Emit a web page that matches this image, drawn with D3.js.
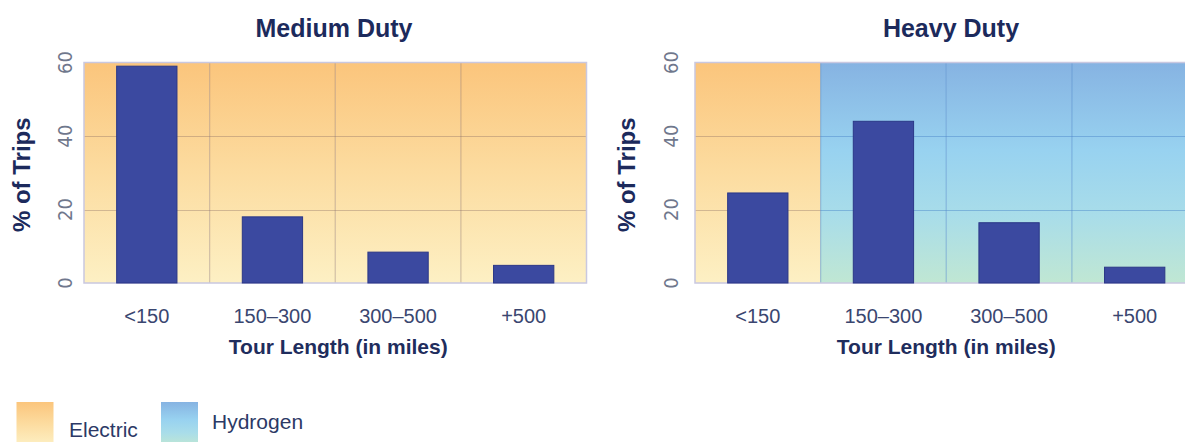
<!DOCTYPE html>
<html>
<head>
<meta charset="utf-8">
<script src="https://cdn.jsdelivr.net/npm/d3@7/dist/d3.min.js"></script>
<style>
  html, body { margin: 0; padding: 0; background: #ffffff; }
  svg { display: block; }
  text { font-family: "Liberation Sans", Arial, sans-serif; }
</style>
</head>
<body>
<svg id="chart" width="1185" height="442"></svg>
<script>
// ---- data ----
const categories = ["<150", "150\u2013300", "300\u2013500", "+500"];
const mediumValues = [59, 18, 8.4, 4.8];
const heavyValues = [24.5, 44, 16.4, 4.3];
const mediumFuel = ["Electric", "Electric", "Electric", "Electric"];
const heavyFuel = ["Electric", "Hydrogen", "Hydrogen", "Hydrogen"];
const yTicks = [0, 20, 40, 60];
const panelTitles = ["Medium Duty", "Heavy Duty"];
const xAxisTitle = "Tour Length (in miles)";
const yAxisTitle = "% of Trips";
const legendLabels = ["Electric", "Hydrogen"];

// ---- layout ----
const svg = d3.select("#chart");
const W = 1185, H = 442;
const plotTop = 62.5, plotBottom = 283;
const panels = [
  { title: panelTitles[0], values: mediumValues, fuel: mediumFuel, left: 84, right: 586.5, titleX: 334, yTitleX: 30, yTickX: 72 },
  { title: panelTitles[1], values: heavyValues, fuel: heavyFuel, left: 695, right: 1197.5, titleX: 951, yTitleX: 635, yTickX: 678 }
];

// gradients
const defs = svg.append("defs");
function grad(id, stops) {
  const g = defs.append("linearGradient").attr("id", id)
    .attr("x1", 0).attr("y1", 0).attr("x2", 0).attr("y2", 1);
  stops.forEach(s => g.append("stop").attr("offset", s[0]).attr("stop-color", s[1]));
}
grad("gElectric", [[0, "#fbc57c"], [0.5, "#fcdca0"], [1, "#fdf0c4"]]);
grad("gHydrogen", [[0, "#86b3e2"], [0.4, "#98d2f0"], [0.7, "#a9dde9"], [1, "#c0e7d3"]]);
const fuelFill = { Electric: "url(#gElectric)", Hydrogen: "url(#gHydrogen)" };
const gridColor = { Electric: "rgba(130,100,95,0.35)", Hydrogen: "rgba(70,130,200,0.45)" };

const y = d3.scaleLinear().domain([0, 60]).range([plotBottom, plotTop]);

panels.forEach(p => {
  const x = d3.scaleBand().domain(categories).range([p.left, p.right])
    .paddingInner(0.52).paddingOuter(0.26);
  const step = x.step();
  const off = (step - x.bandwidth()) / 2;
  const g = svg.append("g");

  // background cells
  g.selectAll("rect.bg").data(categories).join("rect").attr("class", "bg")
    .attr("x", d => x(d) - off)
    .attr("width", step)
    .attr("y", plotTop).attr("height", plotBottom - plotTop)
    .attr("fill", (d, i) => fuelFill[p.fuel[i]]);

  // horizontal gridlines per cell
  categories.forEach((c, i) => {
    g.selectAll(null).data(yTicks.filter(t => t > 0 && t < 60)).join("line")
      .attr("x1", x(c) - off).attr("x2", x(c) - off + step)
      .attr("y1", d => Math.round(y(d)) + 0.5).attr("y2", d => Math.round(y(d)) + 0.5)
      .attr("stroke", gridColor[p.fuel[i]]).attr("stroke-width", 1.2);
  });
  // vertical gridlines at band boundaries
  categories.slice(1).forEach((c, j) => {
    const i = j + 1;
    const f = p.fuel[i];
    g.append("line")
      .attr("x1", x(c) - off).attr("x2", x(c) - off)
      .attr("y1", plotTop).attr("y2", plotBottom)
      .attr("stroke", gridColor[f]).attr("stroke-width", 1.2);
  });

  // frame
  g.append("rect").attr("x", p.left).attr("y", plotTop)
    .attr("width", p.right - p.left).attr("height", plotBottom - plotTop)
    .attr("fill", "none").attr("stroke", "#c9c8e0").attr("stroke-width", 1.5);

  // bars
  g.selectAll("rect.bar").data(p.values).join("rect").attr("class", "bar")
    .attr("x", (d, i) => x(categories[i]))
    .attr("width", x.bandwidth())
    .attr("y", d => y(d))
    .attr("height", d => plotBottom - y(d))
    .attr("fill", "#3b49a0")
    .attr("stroke", "#2b3787").attr("stroke-width", 1);

  // x tick labels
  g.selectAll("text.xt").data(categories).join("text").attr("class", "xt")
    .attr("x", d => x(d) + x.bandwidth() / 2)
    .attr("y", 323)
    .attr("text-anchor", "middle")
    .attr("font-size", 20)
    .attr("fill", "#3a4670")
    .text(d => d);

  // y tick labels (rotated)
  g.selectAll("text.yt").data(yTicks).join("text").attr("class", "yt")
    .attr("transform", d => `translate(${p.yTickX},${y(d)}) rotate(-90)`)
    .attr("text-anchor", "middle")
    .attr("font-size", 20)
    .style("font-family", "'Liberation Sans Narrow', 'DejaVu Sans Condensed', sans-serif")
    .attr("fill", "#6f778c")
    .text(d => d);

  // titles
  g.append("text").attr("x", p.titleX).attr("y", 36.5)
    .attr("text-anchor", "middle").attr("font-size", 25).attr("font-weight", "bold")
    .attr("fill", "#1c2a5c").text(p.title);

  g.append("text").attr("x", (p.left + p.right) / 2 + (p === panels[0] ? 3 : 0)).attr("y", 354)
    .attr("text-anchor", "middle").attr("font-size", 21).attr("font-weight", "bold")
    .attr("fill", "#1f2d5d").text(xAxisTitle);

  g.append("text")
    .attr("transform", `translate(${p.yTitleX},${(plotTop + plotBottom) / 2 + 2}) rotate(-90)`)
    .attr("text-anchor", "middle").attr("font-size", 24).attr("font-weight", "bold")
    .attr("fill", "#1c2a5c").text(yAxisTitle);
});

// legend
const legend = [
  { label: legendLabels[0], fill: fuelFill.Electric, sx: 16.5, tx: 69, ty: 437 },
  { label: legendLabels[1], fill: fuelFill.Hydrogen, sx: 161, tx: 212, ty: 429 }
];
const lg = svg.append("g");
lg.selectAll("rect").data(legend).join("rect")
  .attr("x", d => d.sx).attr("y", 402).attr("width", 37).attr("height", 44)
  .attr("fill", d => d.fill);
lg.selectAll("text").data(legend).join("text")
  .attr("x", d => d.tx).attr("y", d => d.ty)
  .attr("font-size", 21).attr("fill", "#2c3966")
  .text(d => d.label);
</script>
</body>
</html>
